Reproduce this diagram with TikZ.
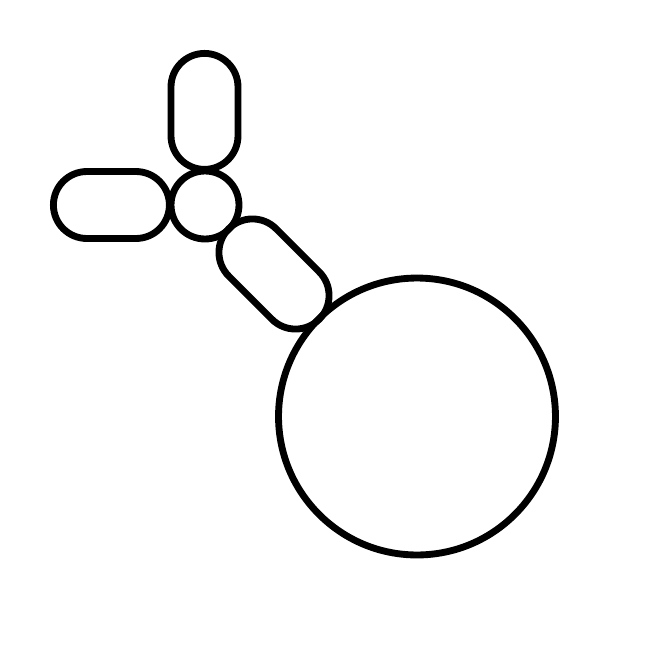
\documentclass[tikz,border=0pt]{standalone}
\usepackage{tikz}
\usetikzlibrary{shapes.misc, positioning}

\begin{document}
\begin{tikzpicture}[x=0.02cm, y=-0.02cm, line width=3.9pt,
	ball/.style={draw, circle, inner sep=0pt},
	pod/.style={draw, rounded rectangle, inner sep=0pt, minimum height=1.34cm}]
				  \useasboundingbox (0,0) rectangle (667,667);
				  \node[ball, minimum size=5.54cm] (body) at (417,416.5) {};
				  \node[ball, minimum size=1.36cm] (hub) at (205,205) {};
				  \node[pod, minimum width=2.32cm, rotate=90] (armtop) at (204.5,111.4) {};
				  \node[pod, minimum width=2.32cm] (armleft) at (111.4,205) {};
				  \node[pod, minimum width=2.56cm, rotate=-45] (stalk) at (274,274) {};
				\end{tikzpicture}
\end{document}
